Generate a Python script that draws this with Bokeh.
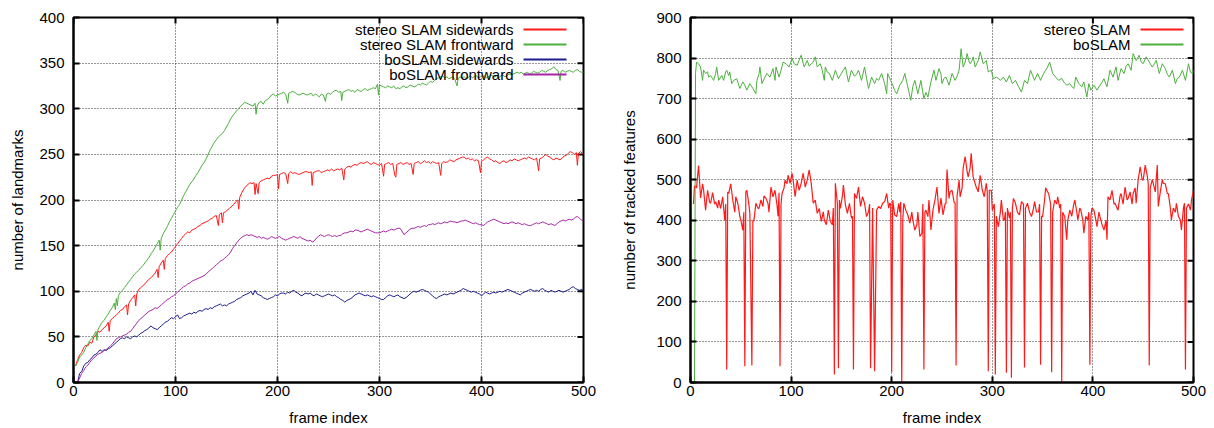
from bokeh.plotting import figure
from bokeh.models import (Range1d, FixedTicker, Label, BoxAnnotation)
from bokeh.layouts import row
from bokeh.embed import file_html
from bokeh.resources import INLINE

# ---------------- data: left panel (number of landmarks) ----------------
stereo_side = [(2,18),(4,25),(6,30),(8,33),(10,38),(12,41),(14,40),(16,44),(18,43),(20,50),(22,52),(24,56),(26,55),(28,58),(30,60),(32,62),(34,66),(35,56),(36,68),(38,70),(40,72),(42,74),(44,76),(46,79),(48,80),(50,83),(52,85),(53,74),(54,86),(56,90),(58,93),(60,96),(61,84),(62,97),(64,102),(66,104),(68,106),(70,108),(72,111),(74,113),(76,115),(78,117),(80,120),(82,124),(83,115),(84,127),(86,131),(88,134),(89,124),(90,136),(92,139),(94,141),(96,143),(98,146),(100,149),(102,152),(104,155),(106,158),(108,161),(110,163),(112,165),(114,164),(116,167),(118,168),(120,169),(122,171),(124,172),(126,174),(128,175),(130,176),(132,177),(134,179),(136,180),(138,182),(140,183),(142,172),(143,184),(145,186),(146,175),(147,186),(149,187),(151,189),(153,191),(155,193),(157,195),(159,198),(161,200),(162,190),(163,203),(165,208),(167,212),(169,215),(171,217),(173,219),(175,218),(177,219),(178,206),(179,218),(181,207),(182,219),(184,221),(186,222),(188,223),(190,224),(192,223),(194,226),(196,227),(198,227),(200,228),(201,212),(202,228),(204,229),(206,230),(208,229),(210,218),(211,229),(213,231),(215,229),(217,230),(219,229),(221,228),(223,229),(225,230),(227,231),(229,231),(231,230),(233,231),(234,216),(235,230),(237,231),(239,232),(241,232),(243,230),(245,231),(247,232),(249,233),(251,232),(253,234),(255,232),(257,233),(259,234),(261,233),(263,235),(265,222),(266,234),(268,236),(270,237),(272,236),(274,238),(276,239),(278,238),(280,240),(282,241),(284,240),(286,241),(288,242),(290,240),(292,239),(294,241),(296,240),(298,239),(300,238),(302,240),(304,226),(305,239),(307,240),(309,241),(311,239),(313,240),(315,227),(316,225),(317,239),(319,240),(321,241),(323,239),(325,240),(327,241),(329,239),(331,240),(333,228),(334,240),(336,241),(338,242),(340,240),(342,241),(344,243),(346,241),(348,242),(350,240),(352,242),(354,241),(356,240),(358,241),(360,227),(361,240),(363,242),(365,241),(367,242),(369,244),(371,243),(373,242),(375,244),(377,245),(379,246),(381,247),(383,247),(385,245),(387,246),(389,244),(391,245),(393,243),(395,244),(397,243),(399,230),(400,242),(402,244),(404,246),(406,247),(408,245),(410,244),(412,242),(414,243),(416,241),(418,240),(420,242),(422,243),(424,241),(426,242),(428,244),(430,243),(432,245),(434,244),(436,243),(438,244),(440,245),(442,246),(444,245),(446,247),(448,246),(450,245),(452,244),(454,246),(456,232),(457,245),(459,246),(461,248),(463,250),(465,248),(467,247),(469,245),(471,244),(473,246),(475,245),(477,244),(479,246),(481,248),(483,249),(485,251),(487,253),(489,252),(491,250),(493,252),(494,238),(495,251),(497,253),(499,251),(500,250)]

stereo_front = [(2,18),(4,22),(6,28),(8,30),(10,33),(12,38),(14,42),(16,46),(18,48),(20,52),(22,56),(23,46),(24,58),(26,62),(28,66),(30,68),(32,72),(34,75),(36,79),(38,82),(40,87),(41,80),(42,92),(43,84),(44,95),(46,99),(48,101),(50,104),(52,107),(54,110),(56,113),(58,116),(60,119),(62,121),(64,123),(66,126),(68,128),(70,131),(72,134),(74,137),(76,141),(78,144),(80,148),(82,152),(84,156),(85,145),(86,158),(88,163),(90,167),(92,171),(94,176),(96,180),(98,184),(100,188),(102,192),(104,195),(106,200),(108,205),(110,209),(112,213),(114,217),(116,220),(118,223),(120,227),(122,230),(124,234),(126,238),(128,241),(130,245),(132,250),(134,255),(136,259),(138,263),(140,266),(142,269),(144,271),(146,273),(148,276),(150,280),(152,284),(154,289),(156,292),(158,295),(160,298),(162,300),(164,303),(166,305),(168,307),(170,306),(172,305),(174,304),(176,303),(178,306),(179,294),(180,303),(182,307),(184,308),(186,305),(188,309),(190,310),(192,312),(194,315),(196,316),(198,314),(200,315),(202,316),(204,317),(206,318),(208,316),(210,306),(211,317),(213,318),(215,319),(217,318),(219,316),(221,315),(223,316),(225,317),(227,316),(229,315),(231,316),(233,317),(235,314),(237,316),(239,315),(241,313),(243,316),(245,315),(247,308),(248,316),(250,317),(252,316),(254,318),(256,320),(258,320),(260,318),(262,319),(263,309),(264,318),(266,319),(268,320),(270,321),(272,319),(274,320),(276,318),(278,321),(280,320),(282,319),(284,321),(286,322),(288,320),(290,321),(292,322),(294,323),(296,322),(298,327),(299,315),(300,326),(302,325),(304,324),(306,323),(308,325),(310,324),(312,323),(314,325),(316,322),(318,323),(320,322),(322,324),(324,325),(326,323),(328,324),(330,326),(332,325),(334,324),(336,325),(338,327),(340,326),(342,328),(344,327),(346,326),(348,328),(350,330),(352,329),(354,331),(356,333),(358,334),(360,335),(362,336),(364,334),(366,335),(368,333),(370,334),(372,335),(374,332),(376,325),(377,333),(379,335),(381,334),(383,335),(385,333),(387,334),(389,336),(391,334),(393,335),(395,336),(397,334),(399,335),(401,335),(403,336),(405,334),(407,335),(409,337),(411,336),(413,335),(415,336),(417,334),(419,336),(421,337),(423,335),(425,336),(427,338),(429,337),(431,338),(433,339),(435,340),(437,339),(439,340),(441,338),(443,339),(445,340),(447,338),(449,339),(451,341),(453,340),(455,339),(457,340),(459,342),(461,341),(463,340),(465,342),(467,343),(469,344),(471,346),(473,343),(475,342),(477,331),(478,341),(480,342),(482,340),(484,341),(486,342),(488,341),(490,340),(492,342),(494,343),(496,341),(498,340),(500,340)]

bo_side = [(4,0),(5,5),(6,10),(8,12),(10,18),(12,21),(14,22),(16,25),(18,27),(20,30),(22,31),(24,33),(26,36),(28,34),(30,36),(32,35),(34,37),(36,38),(38,40),(40,42),(42,44),(44,46),(46,48),(48,49),(50,48),(52,50),(54,49),(56,48),(58,50),(60,51),(62,50),(64,52),(66,54),(68,55),(70,57),(72,58),(74,60),(76,62),(78,60),(80,59),(82,58),(84,60),(86,62),(88,64),(90,66),(92,67),(94,69),(96,71),(98,70),(100,72),(102,74),(104,70),(106,71),(108,73),(110,74),(112,75),(114,76),(116,75),(118,77),(120,76),(122,78),(124,79),(126,78),(128,80),(130,81),(132,80),(134,82),(136,81),(138,83),(140,84),(142,85),(144,86),(146,84),(148,85),(150,84),(152,86),(154,87),(156,88),(158,89),(160,91),(162,92),(164,93),(166,95),(168,96),(170,97),(172,98),(174,100),(176,96),(178,101),(180,97),(182,96),(184,95),(186,93),(188,92),(190,91),(192,92),(194,93),(196,94),(198,96),(200,95),(202,97),(204,98),(206,98),(208,97),(210,99),(212,98),(214,100),(216,101),(218,99),(220,98),(222,96),(224,95),(226,97),(228,98),(230,97),(232,98),(234,96),(236,95),(238,97),(240,96),(242,95),(244,94),(246,95),(248,96),(250,97),(252,96),(254,95),(256,96),(258,94),(260,93),(262,91),(264,90),(266,88),(268,90),(270,91),(272,92),(274,94),(276,96),(278,97),(280,98),(282,97),(284,96),(286,95),(288,96),(290,95),(292,94),(294,95),(296,94),(298,93),(300,92),(302,91),(304,91),(306,93),(308,95),(310,96),(312,95),(314,94),(316,95),(318,96),(320,94),(322,93),(324,92),(326,93),(328,95),(330,97),(332,99),(334,100),(336,99),(338,100),(340,101),(342,102),(344,101),(346,100),(348,99),(350,97),(352,95),(354,93),(356,92),(358,94),(360,95),(362,96),(364,97),(366,96),(368,97),(370,98),(372,97),(374,98),(376,99),(378,100),(380,101),(382,103),(384,102),(386,101),(388,100),(390,99),(392,100),(394,99),(396,98),(398,97),(400,95),(402,97),(404,99),(406,98),(408,97),(410,98),(412,99),(414,98),(416,99),(418,100),(420,99),(422,100),(424,101),(426,102),(428,101),(430,100),(432,99),(434,98),(436,97),(438,96),(440,98),(442,99),(444,100),(446,101),(448,102),(450,101),(452,100),(454,101),(456,100),(458,102),(460,103),(462,101),(464,100),(466,99),(468,101),(470,100),(472,99),(474,100),(476,101),(478,100),(480,99),(482,100),(484,101),(486,102),(488,104),(490,105),(492,103),(494,102),(496,101),(498,102),(500,101)]

bo_front = [(4,0),(6,5),(8,10),(10,13),(12,17),(14,19),(16,22),(18,25),(20,27),(22,29),(24,31),(26,32),(28,33),(30,35),(32,36),(34,38),(36,40),(38,42),(40,45),(42,48),(44,49),(46,50),(48,51),(50,52),(52,53),(54,55),(56,56),(58,59),(60,62),(62,65),(64,68),(66,70),(68,72),(70,74),(72,76),(74,78),(76,79),(78,80),(80,82),(82,81),(84,83),(86,85),(88,87),(90,89),(92,91),(94,92),(96,94),(98,95),(100,97),(102,99),(104,101),(106,103),(108,105),(110,106),(112,108),(114,109),(116,111),(118,112),(120,113),(122,114),(124,115),(126,116),(128,117),(130,119),(132,121),(134,123),(136,125),(138,127),(140,129),(142,131),(144,133),(146,134),(148,136),(150,138),(152,140),(154,143),(156,147),(158,150),(160,153),(162,156),(164,158),(166,160),(168,161),(170,162),(172,161),(174,162),(176,161),(178,160),(180,159),(182,160),(184,158),(186,159),(188,158),(190,157),(192,158),(194,160),(196,159),(198,158),(200,159),(202,160),(204,158),(206,157),(208,156),(210,157),(212,158),(214,159),(216,160),(218,159),(220,158),(222,160),(224,158),(226,157),(228,156),(230,155),(232,156),(234,154),(236,155),(238,158),(240,160),(242,162),(244,161),(246,160),(248,161),(250,162),(252,161),(254,160),(256,161),(258,160),(260,161),(262,161),(264,163),(266,164),(268,164),(270,165),(272,166),(274,165),(276,167),(278,167),(280,166),(282,165),(284,166),(286,167),(288,168),(290,167),(292,166),(294,165),(296,164),(298,164),(300,164),(302,165),(304,166),(306,165),(308,166),(310,167),(312,168),(314,167),(316,168),(318,169),(320,169),(322,166),(324,162),(326,164),(328,166),(330,168),(332,169),(334,169),(336,170),(338,171),(340,170),(342,171),(344,172),(346,171),(348,173),(350,173),(352,174),(354,173),(356,174),(358,175),(360,174),(362,175),(364,176),(366,175),(368,176),(370,177),(372,176),(374,176),(376,175),(378,176),(380,177),(382,177),(384,178),(386,177),(388,176),(390,175),(392,174),(394,175),(396,174),(398,173),(400,173),(402,172),(404,174),(406,176),(408,177),(410,178),(412,179),(414,178),(416,177),(418,176),(420,175),(422,174),(424,175),(426,174),(428,175),(430,176),(432,175),(434,174),(436,175),(438,174),(440,173),(442,174),(444,173),(446,172),(448,172),(450,173),(452,174),(454,175),(456,174),(458,175),(460,176),(462,175),(464,174),(466,173),(468,174),(470,173),(472,172),(474,174),(476,176),(478,177),(480,178),(482,177),(484,178),(486,179),(488,178),(490,179),(492,181),(494,182),(496,180),(498,178),(500,177)]

# ---------------- data: right panel (number of tracked features) ----------------
stereo_track = [(3,440),(4,485),(6,480),(8,535),(10,455),(12,490),(13,475),(15,425),(17,474),(19,445),(20,442),(22,468),(24,440),(25,446),(27,430),(28,450),(30,429),(32,458),(34,400),(35,440),(36,32),(37,470),(38,466),(40,490),(42,450),(44,420),(45,458),(47,442),(49,410),(50,401),(52,376),(53,420),(54,40),(55,470),(56,474),(58,440),(59,417),(61,42),(62,400),(63,398),(65,442),(67,430),(68,429),(70,450),(72,434),(73,460),(75,454),(77,442),(78,420),(80,482),(82,458),(84,474),(86,438),(87,410),(88,468),(89,40),(90,440),(91,466),(93,480),(94,499),(96,490),(97,511),(99,491),(101,516),(102,500),(104,458),(106,499),(108,474),(110,491),(112,516),(114,482),(116,499),(118,524),(120,491),(122,442),(124,450),(126,417),(128,429),(130,397),(132,421),(133,400),(135,389),(137,425),(139,397),(141,389),(142,430),(143,20),(144,491),(146,440),(147,35),(148,450),(149,429),(151,460),(152,487),(154,438),(156,417),(158,442),(160,405),(161,410),(162,32),(163,466),(165,454),(167,482),(169,434),(171,458),(173,442),(175,409),(177,421),(178,440),(179,35),(181,430),(183,28),(185,425),(187,434),(189,429),(191,442),(193,446),(195,466),(197,430),(198,442),(199,440),(200,25),(201,450),(203,413),(205,409),(207,442),(208,420),(209,445),(210,0),(211,400),(212,442),(214,425),(216,413),(218,393),(220,420),(221,401),(223,376),(225,389),(226,420),(228,360),(230,368),(231,440),(232,32),(233,420),(234,425),(236,409),(237,450),(239,376),(241,425),(243,450),(245,482),(247,417),(249,455),(251,413),(253,440),(254,442),(255,525),(257,454),(258,470),(260,474),(262,445),(263,442),(264,42),(265,460),(267,499),(268,458),(270,480),(271,528),(273,557),(275,520),(276,507),(278,530),(279,565),(281,507),(283,490),(284,482),(286,470),(288,511),(290,475),(292,458),(294,491),(295,470),(296,28),(297,474),(299,474),(300,425),(302,440),(303,20),(304,410),(306,384),(308,420),(309,450),(311,400),(312,401),(313,420),(314,24),(315,430),(317,405),(318,420),(319,12),(320,430),(321,454),(323,442),(325,420),(327,413),(328,430),(329,446),(331,440),(332,37),(333,430),(335,442),(337,420),(339,409),(341,430),(342,446),(344,420),(346,421),(347,440),(348,44),(349,410),(350,409),(352,450),(353,480),(355,470),(356,466),(358,440),(359,25),(360,420),(362,450),(364,440),(365,458),(367,430),(368,440),(369,0),(370,420),(372,409),(374,352),(375,400),(377,425),(379,410),(381,440),(382,450),(384,420),(385,401),(387,430),(388,425),(390,400),(391,368),(393,410),(395,401),(396,420),(397,44),(398,410),(399,430),(401,425),(403,400),(404,384),(406,420),(407,409),(409,390),(411,376),(413,400),(414,352),(415,458),(417,450),(419,474),(421,440),(422,442),(424,430),(425,425),(427,460),(428,466),(430,440),(432,482),(434,450),(435,454),(437,470),(439,440),(440,466),(442,480),(443,442),(445,500),(447,532),(449,500),(450,499),(452,536),(454,510),(455,491),(456,42),(457,480),(459,500),(460,491),(462,470),(464,536),(465,434),(467,470),(469,500),(470,491),(472,490),(474,466),(475,466),(477,430),(478,401),(480,430),(482,420),(483,442),(485,410),(487,400),(488,376),(490,430),(491,442),(492,32),(493,430),(495,440),(497,425),(498,450),(500,474)]

bo_track = [(4,0),(5,762),(6,790),(8,786),(10,778),(12,745),(13,770),(15,762),(17,766),(18,753),(20,757),(22,749),(23,745),(25,762),(26,778),(28,745),(31,757),(33,745),(35,766),(36,770),(38,757),(39,766),(41,737),(43,745),(46,749),(49,725),(52,741),(54,733),(56,721),(59,737),(62,725),(65,712),(66,745),(68,760),(69,778),(71,737),(74,753),(76,762),(79,753),(82,774),(84,745),(85,778),(88,753),(90,770),(92,790),(95,786),(98,778),(101,799),(103,786),(106,782),(108,795),(110,807),(113,778),(116,794),(118,780),(120,786),(122,790),(124,803),(126,778),(129,786),(131,770),(133,745),(134,778),(136,765),(138,762),(141,745),(144,770),(147,749),(150,762),(152,770),(154,778),(157,741),(160,770),(163,755),(165,760),(167,770),(170,745),(173,778),(175,750),(177,725),(180,753),(183,737),(185,750),(187,745),(190,762),(192,745),(193,737),(195,712),(196,762),(199,745),(201,733),(203,720),(205,712),(208,733),(211,745),(213,762),(216,729),(219,696),(221,730),(223,745),(226,712),(229,745),(232,700),(234,715),(236,704),(239,741),(242,770),(244,745),(247,774),(249,760),(250,737),(252,750),(254,753),(257,733),(260,762),(263,745),(265,755),(267,770),(269,823),(271,778),(273,790),(275,811),(277,790),(278,786),(280,795),(281,803),(283,778),(286,794),(288,815),(291,786),(294,794),(296,766),(299,770),(301,749),(304,753),(306,750),(308,745),(311,753),(314,741),(317,757),(320,737),(323,745),(326,730),(329,716),(332,745),(335,737),(338,770),(342,745),(345,762),(348,745),(351,762),(353,770),(355,778),(357,790),(360,762),(363,753),(366,745),(369,750),(371,741),(374,733),(377,737),(379,730),(381,725),(383,753),(386,737),(389,729),(391,741),(393,716),(394,704),(396,737),(398,721),(401,733),(404,721),(407,733),(409,740),(411,749),(414,729),(417,770),(420,753),(423,778),(425,745),(428,774),(431,762),(433,780),(435,786),(438,770),(440,811),(443,794),(446,807),(448,790),(450,786),(453,803),(456,790),(459,778),(461,785),(463,794),(466,762),(469,786),(472,774),(474,760),(476,753),(479,770),(482,737),(484,750),(486,753),(489,770),(492,745),(495,786),(497,765),(499,762),(500,770)]

left_labels = ["stereo SLAM sidewards", "stereo SLAM frontward", "boSLAM sidewards", "boSLAM frontward"]
right_labels = ["stereo SLAM", "boSLAM"]
x_ticks = [0, 100, 200, 300, 400, 500]
left_y_ticks = [0, 50, 100, 150, 200, 250, 300, 350, 400]
right_y_ticks = [0, 100, 200, 300, 400, 500, 600, 700, 800, 900]

RED = "#ff1a1a"
GREEN = "#4caf3e"
NAVY = "#1c1c8c"
MAGENTA = "#a626a6"
FONT = "Liberation Sans"
FRAME_W = 510
FRAME_H = 366
TICK_PX = 6


def split(pairs):
    return [a for a, _ in pairs], [b for _, b in pairs]


def make_fig(width, ymax, yticks, ylabel, border_left, border_right, ylabel_standoff):
    p = figure(width=width, height=428, output_backend="svg", toolbar_location=None,
               x_range=Range1d(0, 500), y_range=Range1d(0, ymax),
               min_border_left=border_left, min_border_right=border_right,
               min_border_top=17, min_border_bottom=45)
    p.outline_line_color = "black"
    p.outline_line_width = 2
    p.background_fill_color = "white"
    p.border_fill_color = "white"
    for ax in (p.xaxis[0], p.yaxis[0]):
        ax.major_tick_in = TICK_PX
        ax.major_tick_out = 0
        ax.minor_tick_in = 0
        ax.minor_tick_out = 0
        ax.axis_line_width = 2
        ax.axis_line_color = "black"
        ax.major_tick_line_width = 2
        ax.major_label_text_font = FONT
        ax.major_label_text_font_size = "15px"
        ax.major_label_text_color = "black"
        ax.axis_label_text_font = FONT
        ax.axis_label_text_font_size = "15px"
        ax.axis_label_text_font_style = "normal"
        ax.axis_label_text_color = "black"
    p.xaxis[0].ticker = FixedTicker(ticks=x_ticks)
    p.yaxis[0].ticker = FixedTicker(ticks=yticks)
    p.xaxis[0].axis_label = "frame index"
    p.yaxis[0].axis_label = ylabel
    p.xaxis[0].major_label_standoff = 3
    p.xaxis[0].axis_label_standoff = 10
    p.yaxis[0].major_label_standoff = 9
    p.yaxis[0].axis_label_standoff = ylabel_standoff
    # mirrored inward ticks on the right and top edges (derived from tick lists)
    dx = TICK_PX * 500 / FRAME_W
    dy = TICK_PX * ymax / FRAME_H
    p.segment(x0=[500] * len(yticks), x1=[500 - dx] * len(yticks), y0=yticks, y1=yticks,
              line_color="black", line_width=2)
    p.segment(x0=x_ticks, x1=x_ticks, y0=[ymax] * len(x_ticks), y1=[ymax - dy] * len(x_ticks),
              line_color="black", line_width=2)
    p.xgrid.ticker = FixedTicker(ticks=x_ticks)
    p.ygrid.ticker = FixedTicker(ticks=yticks)
    for g in (p.xgrid[0], p.ygrid[0]):
        g.grid_line_color = "black"
        g.grid_line_alpha = 0.8
        g.grid_line_dash = "1 2"
        g.grid_line_width = 1
    return p


def add_legend(p, labels, colors):
    for i, (lab, col) in enumerate(zip(labels, colors)):
        y = 353 - i * 15
        p.add_layout(Label(x=440, y=y, x_units="screen", y_units="screen", text=lab,
                           text_align="right", text_baseline="middle",
                           text_font=FONT, text_font_size="15px", text_color="black"))
        p.add_layout(BoxAnnotation(left=450, right=493, bottom=y - 1, top=y + 1,
                                   left_units="screen", right_units="screen",
                                   bottom_units="screen", top_units="screen",
                                   fill_color=col, fill_alpha=1.0,
                                   line_color=col, line_alpha=0, line_width=0))


# ---------------- left figure ----------------
p1 = make_fig(618, 400, left_y_ticks, "number of landmarks", 73, 35, 10)
for series, col in ((stereo_side, RED), (stereo_front, GREEN), (bo_side, NAVY), (bo_front, MAGENTA)):
    xs, ys = split(series)
    p1.line(xs, ys, line_color=col, line_width=1)
add_legend(p1, left_labels, [RED, GREEN, NAVY, MAGENTA])

# ---------------- right figure ----------------
p2 = make_fig(594, 900, right_y_ticks, "number of tracked features", 65, 19, 15)
xs, ys = split(stereo_track)
p2.line(xs, ys, line_color=RED, line_width=1.2)
xs, ys = split(bo_track)
p2.line(xs, ys, line_color=GREEN, line_width=1)
add_legend(p2, right_labels, [RED, GREEN])

layout = row(p1, p2)
open("out.html", "w").write(file_html(layout, INLINE))
